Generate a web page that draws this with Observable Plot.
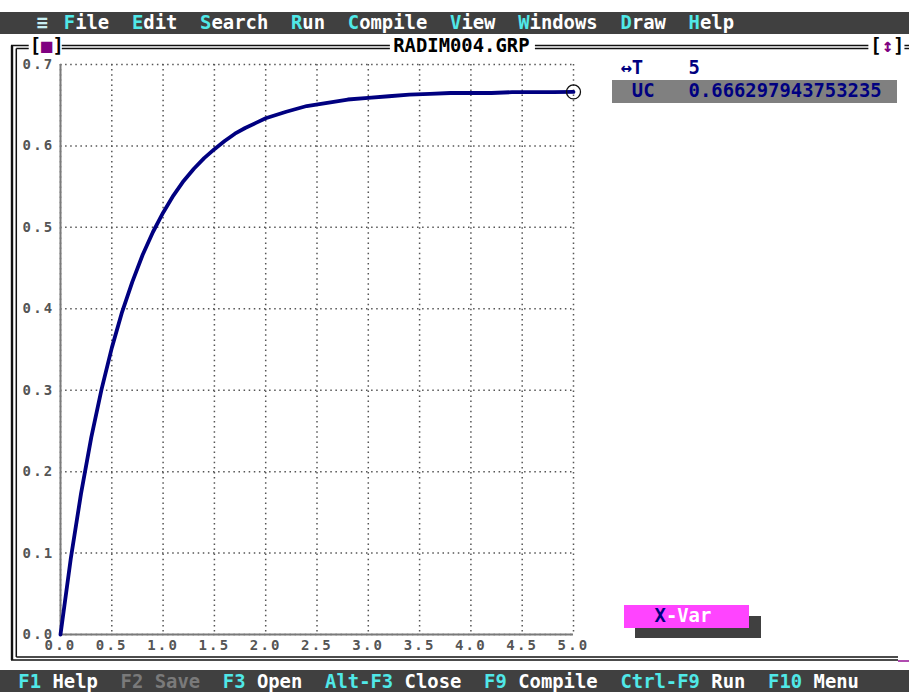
<!DOCTYPE html>
<html>
<head>
<meta charset="utf-8">
<script src="https://cdn.jsdelivr.net/npm/d3@7"></script>
<script src="https://cdn.jsdelivr.net/npm/@observablehq/plot@0.6"></script>
<style>
  html, body { margin: 0; padding: 0; background: #fff; }
  body { width: 909px; height: 692px; overflow: hidden; position: relative; }
  #chrome { position: absolute; left: 0; top: 0; }
  #chrome text { font-family: "DejaVu Sans Mono", monospace; font-weight: bold; font-size: 18.87px; white-space: pre; }
  #chart { position: absolute; left: 0; top: 40px; }
  #chart g[aria-label="x-axis tick label"] text,
  #chart g[aria-label="y-axis tick label"] text { letter-spacing: 2.2px; }
</style>
</head>
<body>
<svg id="chrome" width="909" height="692"></svg>
<div id="chart"></div>
<script>
// Simulation output: capacitor voltage UC against time T
const tValues = [0, 0.1, 0.2, 0.3, 0.4, 0.5, 0.6, 0.7, 0.8, 0.9, 1.0,
                 1.1, 1.2, 1.3, 1.4, 1.5, 1.6, 1.7, 1.8, 1.9, 2.0,
                 2.2, 2.4, 2.6, 2.8, 3.0, 3.2, 3.4, 3.6, 3.8, 4.0,
                 4.2, 4.4, 4.6, 4.8, 5.0];
const ucValues = [0, 0.093, 0.173, 0.242, 0.301, 0.352, 0.396, 0.433, 0.466, 0.494, 0.518,
                  0.539, 0.557, 0.572, 0.585, 0.596, 0.606, 0.615, 0.622, 0.628, 0.634,
                  0.642, 0.649, 0.653, 0.657, 0.659, 0.661, 0.663, 0.664, 0.665, 0.665,
                  0.665, 0.666, 0.666, 0.666, 0.666297943753235];

const xTicks = [0, 0.5, 1.0, 1.5, 2.0, 2.5, 3.0, 3.5, 4.0, 4.5, 5.0];
const yTicks = [0, 0.1, 0.2, 0.3, 0.4, 0.5, 0.6, 0.7];

// IDE text
const menuItems = ["File", "Edit", "Search", "Run", "Compile", "View", "Windows", "Draw", "Help"];
const menuCols  = [5, 11, 17, 25, 30, 39, 45, 54, 60];
const statusItems = [
  {key: "F1", label: "Help", col: 1, enabled: true},
  {key: "F2", label: "Save", col: 10, enabled: false},
  {key: "F3", label: "Open", col: 19, enabled: true},
  {key: "Alt-F3", label: "Close", col: 28, enabled: true},
  {key: "F9", label: "Compile", col: 42, enabled: true},
  {key: "Ctrl-F9", label: "Run", col: 54, enabled: true},
  {key: "F10", label: "Menu", col: 67, enabled: true}
];
const windowTitle = "RADIM004.GRP";
const xVarName = "T";
const yVarName = "UC";
const lastT = tValues[tValues.length - 1];
const lastUC = ucValues[ucValues.length - 1];

// ---------- text-mode screen chrome ----------
const CW = 11.36, X0 = 7;
const col = c => X0 + c * CW;
const scr = d3.select("#chrome");
const CYAN = "#50e8e8", NAVY = "#000080", PURPLE = "#800080", BAR = "#404040";

function put(str, c, y, fill) {
  scr.append("text").attr("x", col(c)).attr("y", y).attr("fill", fill).text(str);
}
function hline(x1, x2, y, w = 1.5, stroke = "#111") {
  scr.append("line").attr("x1", x1).attr("x2", x2).attr("y1", y).attr("y2", y)
    .attr("stroke", stroke).attr("stroke-width", w);
}
function vline(x, y1, y2, w = 1.5, stroke = "#111") {
  scr.append("line").attr("x1", x).attr("x2", x).attr("y1", y1).attr("y2", y2)
    .attr("stroke", stroke).attr("stroke-width", w);
}

// menu bar
scr.append("rect").attr("x", 0).attr("y", 12).attr("width", 909).attr("height", 22).attr("fill", BAR);
put("\u2261", 2.6, 29, "#c8eef2");
menuItems.forEach((m, i) => {
  put(m[0], menuCols[i], 29, CYAN);
  put(m.slice(1), menuCols[i] + 1, 29, "#ffffff");
});

// window frame (double line)
const topA = 45.5, topB = 48.5, botA = 660, botB = 657, leftA = 12, leftB = 16.3;
vline(leftA, topA, botA, 2.4);
vline(leftB, topB, botB, 1.5);
hline(leftA - 1, col(2) - 1, topA); hline(leftB, col(2) - 1, topB);
hline(col(5) - 2, col(33) + 8, topA); hline(col(5) - 2, col(33) + 8, topB);
hline(col(47) - 6, col(76) - 2, topA); hline(col(47) - 6, col(76) - 2, topB);
hline(col(79), 909, topA); hline(col(79), 909, topB);
hline(leftA - 1, 898, botA); hline(leftB, 898, botB);
hline(898, 909, 661, 2, "#b04cb0");
put("[", 2, 52, "#000"); put("\u25A0", 3, 52, PURPLE); put("]", 4, 52, "#000");
put(windowTitle, 34, 52, "#000");
put("[", 76, 52, "#000"); put("\u2195", 77, 52, PURPLE); put("]", 78, 52, "#000");

// variable panel
put("\u2194", 54, 74, NAVY); put(xVarName, 55, 74, NAVY);
put(String(lastT), 60, 74, NAVY);
scr.append("rect").attr("x", 612).attr("y", 80).attr("width", 285).attr("height", 23).attr("fill", "#808080");
put(yVarName, 55, 97, NAVY);
put(lastUC.toFixed(15), 60, 97, NAVY);

// X-Var button with shadow
scr.append("rect").attr("x", 635).attr("y", 616).attr("width", 126).attr("height", 22).attr("fill", BAR);
scr.append("rect").attr("x", 624).attr("y", 605).attr("width", 125).attr("height", 23).attr("fill", "#ff44ff");
put("X", 57, 622, NAVY); put("-Var", 58, 622, "#ffffff");

// status bar
scr.append("rect").attr("x", 0).attr("y", 670).attr("width", 909).attr("height", 22).attr("fill", BAR);
statusItems.forEach(s => {
  put(s.key, s.col, 688, s.enabled ? CYAN : "#7a7a7a");
  put(s.label, s.col + s.key.length + 1, 688, s.enabled ? "#ffffff" : "#7a7a7a");
});

// ---------- the graph ----------
const series = tValues.map((t, i) => ({t, uc: ucValues[i]}));
const tickFont = {fontSize: 14, fontWeight: "bold", fill: "#555"};

const chart = Plot.plot({
  width: 600,
  height: 620,
  marginLeft: 60,
  marginRight: 27,
  marginTop: 24,
  marginBottom: 26,
  x: {domain: [0, 5], label: null},
  y: {domain: [0, 0.7], label: null},
  style: {background: "transparent", fontFamily: "DejaVu Sans Mono, monospace", overflow: "visible"},
  marks: [
    Plot.gridX(xTicks, {stroke: "#555", strokeOpacity: 1, strokeWidth: 1.5, strokeDasharray: "1.5,3.6"}),
    Plot.gridY(yTicks, {stroke: "#555", strokeOpacity: 1, strokeWidth: 1.5, strokeDasharray: "1.5,3.6"}),
    Plot.ruleX([0], {stroke: "#7a7a7a", strokeWidth: 2}),
    Plot.ruleY([0], {stroke: "#7a7a7a", strokeWidth: 2}),
    Plot.axisX(xTicks, {tickSize: 0, tickPadding: 6, tickFormat: d => d.toFixed(1), label: null, ...tickFont}),
    Plot.axisY(yTicks, {tickSize: 0, tickPadding: 6, tickFormat: d => d.toFixed(1), label: null, ...tickFont}),
    Plot.line(series, {x: "t", y: "uc", stroke: NAVY, strokeWidth: 3.8}),
    Plot.dot([series[series.length - 1]], {x: "t", y: "uc", r: 7, stroke: "#111", strokeWidth: 1.3, fill: "none"})
  ]
});
document.getElementById("chart").appendChild(chart);
</script>
</body>
</html>
